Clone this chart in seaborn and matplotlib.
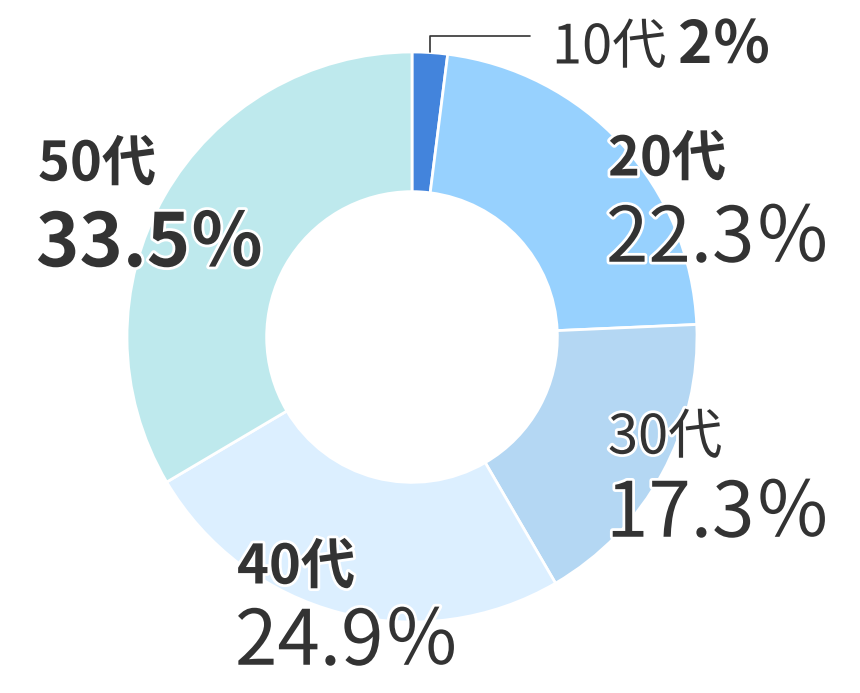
import matplotlib
matplotlib.use("Agg")
import matplotlib.pyplot as plt
import matplotlib.patheffects as pe
import seaborn as sns

sns.set_theme(style="white")
plt.rcParams['font.family'] = ['Noto Sans CJK JP', 'DejaVu Sans']

categories = ["10代", "20代", "30代", "40代", "50代"]
values = [2.0, 22.3, 17.3, 24.9, 33.5]
pct_labels = ["2％", "22.3％", "17.3％", "24.9％", "33.5％"]
colors = ["#4384dc", "#97d1fe", "#b4d7f3", "#dcefff", "#bee9ed"]

W, H = 860, 693
fig = plt.figure(figsize=(W / 100, H / 100), dpi=100)
ax = fig.add_axes([0, 0, 1, 1])
cx, cy, R = 412, H - 337, 285
ax.pie(values, colors=colors, startangle=90, counterclock=False,
       center=(cx, cy), radius=R,
       wedgeprops=dict(width=R * 0.49, edgecolor="white", linewidth=2))
ax.set_xlim(0, W)
ax.set_ylim(0, H)
ax.set_aspect("equal")
ax.axis("off")

stroke = [pe.withStroke(linewidth=4, foreground="white")]
tc = "#333333"

def txt(x, y, s, size, weight):
    ax.text(x, H - y, s, fontsize=size, fontweight=weight, color=tc,
            ha="left", va="center", path_effects=stroke)

# leader line for 10代
ax.plot([430, 430, 530], [H - 52, H - 36, H - 36], color="#333333", lw=1.2)
txt(552, 48, categories[0], 39, "normal")
txt(678, 46, pct_labels[0], 42, "bold")

txt(608, 160, categories[1], 39, "bold")
txt(606, 240, pct_labels[1], 55, "normal")

txt(608, 438, categories[2], 39, "normal")
txt(606, 515, pct_labels[2], 55, "normal")

txt(237, 568, categories[3], 39, "bold")
txt(235, 643, pct_labels[3], 55, "normal")

txt(38, 165, categories[4], 39, "bold")
txt(36, 245, pct_labels[4], 53, "bold")

fig.savefig("out.png", dpi=100, facecolor="white")
